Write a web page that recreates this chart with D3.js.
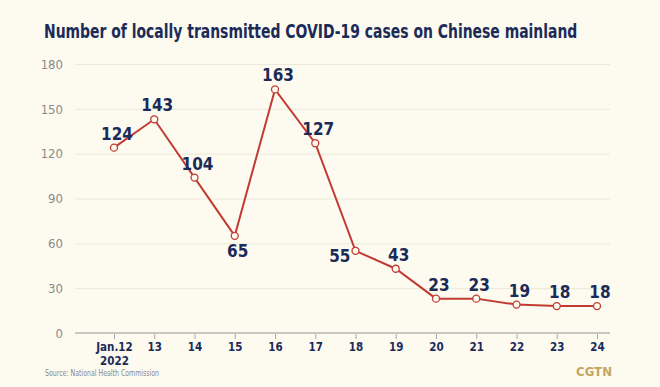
<!DOCTYPE html>
<html><head><meta charset="utf-8">
<script src="https://cdn.jsdelivr.net/npm/d3@7"></script>
<style>body{margin:0;background:#fdfaf0;}svg{display:block;}</style>
</head><body>
<svg id="c" width="660" height="387"></svg>
<script>
const categories = ["Jan.12","13","14","15","16","17","18","19","20","21","22","23","24"];
const values = [124,143,104,65,163,127,55,43,23,23,19,18,18];
const yTicks = [0,30,60,90,120,150,180];
const labelPos = ["above","above","above","below","above","above","left","above","above","above","above","above","above"];

const svg = d3.select("#c");
const W = 660, H = 387;
svg.append("rect").attr("width",W).attr("height",H).attr("fill","#fdfaf0");
const cond = "'Liberation Sans Narrow','DejaVu Sans Condensed','Roboto',sans-serif";
const navy = "#1b2b58";

const x = d3.scalePoint().domain(categories).range([114,597]);
const y = d3.scaleLinear().domain([0,180]).range([333,64]);

const title = svg.append("text").attr("x",0).attr("y",0).attr("font-family",cond).attr("font-weight","bold")
  .attr("font-size",20).attr("fill",navy)
  .text("Number of locally transmitted COVID-19 cases on Chinese mainland");
const tw = title.node().getComputedTextLength();
title.attr("transform",`translate(44,38) scale(${534/tw},1)`);

// grid
const yAxis = d3.axisLeft(y).tickValues(yTicks).tickSize(-(610-75)).tickPadding(12);
const gy = svg.append("g").attr("transform","translate(75,0)").call(yAxis);
gy.select(".domain").remove();
gy.selectAll(".tick line").attr("stroke","#ece8da").attr("stroke-width",1);
gy.selectAll(".tick text").attr("font-family",cond).attr("font-size",13).attr("fill","#8a8a8a");
gy.selectAll(".tick").filter(d=>d===0).select("line").remove();

// x axis
const xAxis = d3.axisBottom(x).tickSize(6).tickPadding(4);
const gx = svg.append("g").attr("transform","translate(0,333)").call(xAxis);
gx.select(".domain").remove();
svg.append("line").attr("x1",75).attr("x2",610).attr("y1",333).attr("y2",333).attr("stroke","#c6c6c2").attr("stroke-width",2);
gx.selectAll(".tick line").attr("stroke","#a9a9a9");
gx.selectAll(".tick text").attr("font-family",cond).attr("font-weight","bold").attr("font-size",11.5).attr("fill",navy);
gx.selectAll(".tick").filter(d=>d==="Jan.12").append("text")
  .attr("y",32).attr("font-family",cond).attr("font-weight","bold").attr("font-size",11.5).attr("fill",navy)
  .attr("text-anchor","middle").text("2022");

// line
const line = d3.line().x((d,i)=>x(categories[i])).y(d=>y(d));
svg.append("path").datum(values).attr("d",line).attr("fill","none").attr("stroke","#c23b33").attr("stroke-width",2);
svg.selectAll("circle.pt").data(values).join("circle").attr("class","pt")
  .attr("cx",(d,i)=>x(categories[i])).attr("cy",d=>y(d)).attr("r",3.5)
  .attr("fill","#fdfaf0").attr("stroke","#c23b33").attr("stroke-width",1.3);

svg.selectAll("text.lbl").data(values).join("text").attr("class","lbl")
  .attr("x",(d,i)=> labelPos[i]==="left" ? x(categories[i])-5 : x(categories[i])+3)
  .attr("y",(d,i)=> labelPos[i]==="below" ? y(d)+21 : labelPos[i]==="left" ? y(d)+11 : y(d)-8)
  .attr("text-anchor",(d,i)=> labelPos[i]==="left" ? "end" : "middle")
  .attr("font-family",cond).attr("font-weight","bold").attr("font-size",17).attr("fill",navy)
  .text(d=>d);

svg.append("text").attr("x",45).attr("y",376).attr("font-family",cond).attr("font-size",8).attr("fill","#8a8a8a")
  .attr("textLength",114).attr("lengthAdjust","spacingAndGlyphs")
  .text("Source: National Health Commission");
svg.append("text").attr("x",612).attr("y",376).attr("text-anchor","end").attr("font-family","'DejaVu Sans','Roboto',sans-serif")
  .attr("font-weight","bold").attr("font-size",12).attr("fill","#c4a660").attr("textLength",36).attr("lengthAdjust","spacingAndGlyphs").text("CGTN");
</script>
</body></html>
